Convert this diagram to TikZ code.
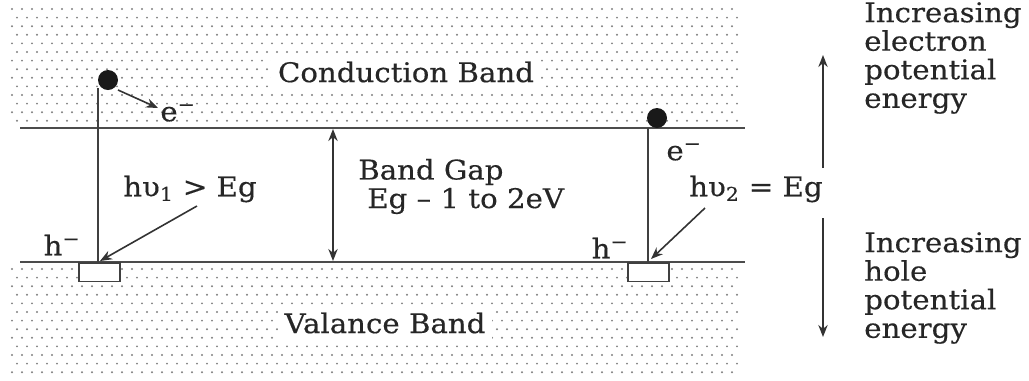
\documentclass[tikz,border=0pt]{standalone}
\usepackage{fontspec}
\setmainfont[FakeStretch=1.08,FakeBold=0.4]{DejaVu Serif}
\usetikzlibrary{arrows.meta}
\begin{document}
\begin{tikzpicture}[x=0.75pt,y=-0.75pt,
  lbl/.style={font=\fontsize{20.3}{21.4}\selectfont, text=black!85, inner sep=0pt},
  bandlbl/.style={lbl, fill=white, inner sep=5pt},
  lvl/.style={draw=black!70, line width=1.7pt},
  vline/.style={draw=black!75, line width=1.4pt},
  arr/.style={draw=black!80, line width=1.2pt, -{Stealth[length=9pt,width=7pt]}},
  darr/.style={draw=black!80, line width=1.2pt, {Stealth[length=9pt,width=7pt]}-{Stealth[length=9pt,width=7pt]}},
  electron/.style={circle, fill=black!90, minimum size=15pt, inner sep=0pt},
  holebox/.style={draw=black!75, line width=1.3pt, fill=white, minimum width=31pt, minimum height=14pt, inner sep=0pt, anchor=north west},
  bgdot/.style={fill=black!50}
]
\useasboundingbox (0,0) rectangle (1029,380);
% dotted band regions
\foreach \r in {0,...,13}
  \foreach \c in {0,...,72}
    {\fill[bgdot] ({12+\c*10+mod(\r,2)*5},{9+\r*8.6}) circle (0.8pt);}
\foreach \r in {0,...,12}
  \foreach \c in {0,...,72}
    {\fill[bgdot] ({12+\c*10+mod(\r,2)*5},{269+\r*8.6}) circle (0.8pt);}

% band edges
\coordinate (cbL) at (20,128);
\coordinate (cbR) at (745,128);
\coordinate (vbL) at (20,262);
\coordinate (vbR) at (745,262);
\draw[lvl] (cbL) -- (cbR);
\draw[lvl] (vbL) -- (vbR);

% band labels
\node[bandlbl] (cond) at (406,72) {Conduction Band};
\node[bandlbl] (val) at (385,323) {Valance Band};

% hole boxes
\node[holebox] (hole1) at (78,262) {};
\node[holebox] (hole2) at (627,262) {};

% left transition
\node[electron] (e1) at (108,80) {};
\coordinate (v1top) at (98,88);
\coordinate (v1bot) at (98,262);
\draw[vline] (v1top) -- (v1bot);
\node[lbl] (e1lbl) at (178,113) {e\textsuperscript{−}};
\coordinate (e1s) at (118,90);
\coordinate (e1e) at (158,108);
\draw[arr] (e1s) -- (e1e);
\node[lbl] (h1lbl) at (62,245) {h\textsuperscript{−}};
\node[lbl] (hv1) at (190,189) {hυ\textsubscript{1} > Eg};
\coordinate (hv1s) at (197,206);
\coordinate (hv1e) at (100,261);
\draw[arr] (hv1s) -- (hv1e);

% band gap
\coordinate (gapT) at (333,129);
\coordinate (gapB) at (333,261);
\draw[darr] (gapT) -- (gapB);
\node[lbl, anchor=west] (bg1) at (358,172) {Band Gap};
\node[lbl, anchor=west] (bg2) at (367,201) {Eg – 1 to 2eV};

% right transition
\node[electron] (e2) at (657,118) {};
\coordinate (v2top) at (648,128);
\coordinate (v2bot) at (648,262);
\draw[vline] (v2top) -- (v2bot);
\node[lbl] (e2lbl) at (684,152) {e\textsuperscript{−}};
\node[lbl] (h2lbl) at (610,248) {h\textsuperscript{−}};
\node[lbl, anchor=west] (hv2) at (689,189) {hυ\textsubscript{2} = Eg};
\coordinate (hv2s) at (705,208);
\coordinate (hv2e) at (651,259);
\draw[arr] (hv2s) -- (hv2e);

% energy direction arrows
\coordinate (upB) at (823,168);
\coordinate (upT) at (823,55);
\draw[arr] (upB) -- (upT);
\coordinate (dnT) at (823,218);
\coordinate (dnB) at (823,337);
\draw[arr] (dnT) -- (dnB);
\node[lbl, anchor=west, align=left] (eleTxt) at (864,58) {Increasing\\electron\\potential\\energy};
\node[lbl, anchor=west, align=left] (holeTxt) at (864,288) {Increasing\\hole\\potential\\energy};
\end{tikzpicture}
\end{document}
